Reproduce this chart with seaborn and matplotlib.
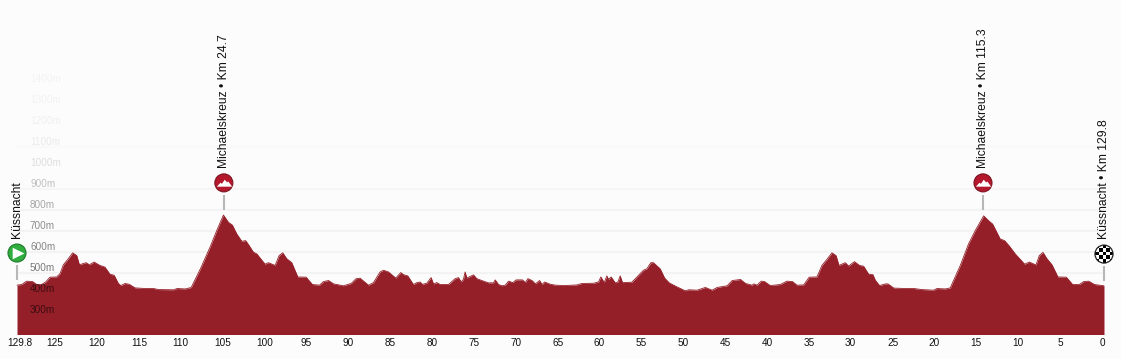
import matplotlib
matplotlib.use("Agg")
import matplotlib.pyplot as plt
from matplotlib.patches import Ellipse
from matplotlib.transforms import ScaledTranslation
import numpy as np
import seaborn as sns

# km to go
km_to_go = [129.8, 129.24, 128.65, 127.93, 127.45, 126.85, 126.38, 125.86, 125.06, 124.66, 124.27, 123.67,
            123.15, 122.67, 122.35, 121.56, 121.16, 120.6, 119.9, 119.3, 118.7, 118.2, 117.7, 117.4, 116.9,
            116.4, 115.7, 114.5, 113.5, 112.9, 111.1, 110.7, 109.7, 109.0, 107.9, 106.75, 105.95, 105.15,
            104.55, 104.08, 103.56, 102.96, 102.49, 102.09, 101.57, 101.17, 100.18, 99.78, 98.98, 98.5,
            98.07, 97.59, 96.99, 96.27, 95.28, 94.52, 93.69, 93.2, 92.6, 92.0, 90.82, 89.9, 89.3, 88.83,
            87.83, 87.24, 86.44, 86.04, 85.45, 84.57, 83.97, 83.66, 83.14, 82.46, 82.06, 81.66, 81.38,
            80.87, 80.35, 80.07, 79.67, 79.27, 78.28, 77.48, 77.08, 76.77, 76.49, 76.29, 76.09, 75.29,
            74.9, 74.3, 73.5, 72.9, 72.7, 72.3, 71.9, 71.5, 71.1, 70.6, 70.2, 69.44, 69.1, 68.8, 68.3,
            67.9, 67.4, 67.1, 66.8, 66.1, 65.5, 64.5, 62.95, 62.35, 60.96, 60.36, 60.08, 59.68, 59.37,
            59.17, 58.85, 58.37, 58.05, 57.77, 57.5, 56.38, 55.78, 54.99, 54.59, 54.11, 53.8, 53.0,
            52.47, 51.92, 51.0, 50.0, 49.6, 48.6, 47.6, 46.8, 46.2, 45.0, 44.4, 43.4, 42.8, 42.04, 41.8,
            41.45, 40.93, 40.53, 39.85, 38.66, 37.86, 37.2, 36.67, 35.87, 35.2, 34.28, 33.68, 33.08,
            32.49, 32.0, 31.65, 30.9, 30.5, 29.8, 29.2, 28.7, 28.1, 27.6, 27.3, 26.8, 26.12, 25.8, 25.1,
            23.73, 22.7, 21.74, 20.35, 19.95, 18.95, 18.36, 17.16, 16.17, 15.37, 14.37, 13.78, 13.3,
            12.4, 11.87, 11.3, 10.6, 9.48, 8.92, 8.12, 7.73, 7.29, 6.81, 6.21, 5.5, 4.5, 3.74, 2.95,
            2.43, 1.83, 1.12, 0.0]
elevation = [442, 445, 461, 459, 445, 445, 457, 480, 481, 497, 539, 568,
             596, 583, 539, 549, 539, 552, 536, 528, 494, 489, 450, 440, 450,
             446, 429, 426, 426, 421, 420, 426, 424, 431, 520, 623, 702, 776,
             741, 728, 686, 651, 654, 631, 599, 591, 542, 549, 536, 583,
             596, 568, 549, 481, 480, 445, 442, 459, 464, 448, 439, 450, 473, 475,
             442, 454, 505, 513, 505, 476, 502, 492, 486, 445, 454, 457, 446,
             451, 478, 448, 454, 445, 445, 473, 478, 457, 470, 505, 476, 491,
             473, 464, 453, 453, 467, 445, 439, 442, 461, 454, 467, 467, 454, 473, 464,
             448, 464, 445, 457, 446, 442, 440, 443, 450, 451, 457, 481, 454, 486,
             470, 481, 453, 457, 486, 454, 456, 481, 513, 520, 549, 549, 520,
             476, 453, 434, 415, 420, 418, 431, 418, 431, 439, 464, 469, 450, 442, 448,
             442, 461, 459, 440, 445, 461, 459, 442, 443, 480, 481, 536, 565,
             596, 583, 536, 549, 533, 554, 536, 532, 494, 492, 465, 440, 448, 448, 428,
             426, 426, 421, 418, 426, 424, 429, 536, 639, 702, 772, 749, 733,
             662, 654, 628, 591, 542, 552, 538, 583, 598, 568, 539, 481, 480, 445, 445,
             459, 461, 445, 439]

x_ticks = [129.8, 125, 120, 115, 110, 105, 100, 95, 90, 85, 80, 75, 70, 65, 60, 55, 50, 45, 40, 35, 30, 25, 20, 15, 10, 5, 0]
x_tick_labels = ["129.8", "125", "120", "115", "110", "105", "100", "95", "90", "85", "80", "75", "70", "65",
                 "60", "55", "50", "45", "40", "35", "30", "25", "20", "15", "10", "5", "0"]
y_levels = [300, 400, 500, 600, 700, 800, 900, 1000, 1100, 1200, 1300, 1400]
y_alphas = [0.6, 0.6, 0.52, 0.47, 0.44, 0.34, 0.24, 0.12, 0.07, 0.05, 0.045, 0.04]
grid_levels = [500, 600, 700, 800, 900, 1100]
grid_colors = ["#f3f3f3", "#f3f3f3", "#f3f3f3", "#f4f4f4", "#f6f6f6", "#f9f9f9"]

stop_km = [129.8, 105.1, 14.45, 0.0]
stop_labels = ["Küssnacht", "Michaelskreuz • Km 24.7", "Michaelskreuz • Km 115.3", "Küssnacht • Km 129.8"]
stop_label_km = [129.85, 105.1, 14.4, 0.0]
stop_label_ele = [667, 1000, 1000, 662]
marker_ele = [595, 929, 929, 590]
stem_top = [538, 871, 871, 533]
stem_bottom = [467, 800, 800, 462]

sns.set_style("white")
plt.rcParams['font.family'] = ['Liberation Sans', 'DejaVu Sans']

BG = "#fcfcfc"
AREA = "#951f29"
PX_X = 8.372   # pixels per km
PX_Y = 0.21    # pixels per metre

fig = plt.figure(figsize=(11.21, 3.59), dpi=100, facecolor=BG)
ax = fig.add_axes([0, 24.5 / 359, 1, 334.5 / 359], facecolor=BG)
sns.despine(ax=ax, left=True, bottom=True)

x_left = 129.8 + 17 / PX_X
x_right = -17 / PX_X
y_bottom = 207
y_top = y_bottom + 334.5 / PX_Y

for level, color in zip(grid_levels, grid_colors):
    ax.hlines(level, 0, 129.8, color=color, lw=1.6, zorder=1)

ax.fill_between(km_to_go, elevation, y_bottom, color=AREA, lw=0, zorder=2)
sns.lineplot(x=km_to_go, y=elevation, color=AREA, lw=0.6, errorbar=None, ax=ax, zorder=2)

for level, alpha in zip(y_levels, y_alphas):
    ax.text(129.8 - 13 / PX_X, level + 5 / PX_Y, f"{level}m", fontsize=7.2, color="black", alpha=alpha,
            ha="left", va="center", zorder=3)

# stems and labels
for i in range(4):
    ax.vlines(stop_km[i], stem_bottom[i], stem_top[i], color="#b7b7b7", lw=1.5, zorder=4)
    ax.text(stop_label_km[i], stop_label_ele[i], stop_labels[i], rotation=90, fontsize=8.7, color="#111111",
            ha="center", va="bottom", zorder=5)

w = 18 / PX_X
h = 18 / PX_Y
# start
ax.add_patch(Ellipse((stop_km[0], marker_ele[0]), w, h, fc="#2fae3f", ec="#1f7a2c", lw=0.8, zorder=5))
ax.scatter([stop_km[0] - 0.08], [marker_ele[0]], marker=">", s=70, color="white", lw=0, zorder=6)

# climbs
mountain = [(-6, -2.5), (-3.2, 0.6), (-2, -0.2), (0.2, 3), (2, 0.9), (3, 1.6), (6, -2.5)]
for i in [1, 2]:
    ax.add_patch(Ellipse((stop_km[i], marker_ele[i]), w, h, fc="#b4182d", ec="#7c1420", lw=0.8, zorder=5))
    ax.scatter([stop_km[i]], [marker_ele[i]], marker=mountain, s=120, color="white", lw=0, zorder=6)

# finish
checker = np.indices((5, 5)).sum(axis=0) % 2
ax.add_patch(Ellipse((stop_km[3], marker_ele[3]), w, h, fc="white", ec="none", zorder=5))
img = ax.imshow(checker, extent=(stop_km[3] + w / 2, stop_km[3] - w / 2, marker_ele[3] - h / 2, marker_ele[3] + h / 2),
                aspect="auto", cmap="gray", interpolation="nearest", zorder=5.5)
img.set_clip_path(Ellipse((stop_km[3], marker_ele[3]), w, h, transform=ax.transData))
ax.add_patch(Ellipse((stop_km[3], marker_ele[3]), w, h, fc="none", ec="#222222", lw=0.9, zorder=6))

ax.set_xlim(x_left, x_right)
ax.set_ylim(y_bottom, y_top)
ax.set_xticks(x_ticks)
ax.set_xticklabels(x_tick_labels, fontsize=7.2, color="#111111")
ax.set_yticks([])
ax.tick_params(axis="x", length=0, pad=2.2)
ax.set_xlabel("")
ax.set_ylabel("")
for lab, tick in zip(ax.get_xticklabels(), x_ticks):
    dx = 2.8 if tick == 129.8 else -2.0
    lab.set_transform(lab.get_transform() + ScaledTranslation(dx / 100, 0, fig.dpi_scale_trans))

fig.savefig("out.png", dpi=100, facecolor=BG)
